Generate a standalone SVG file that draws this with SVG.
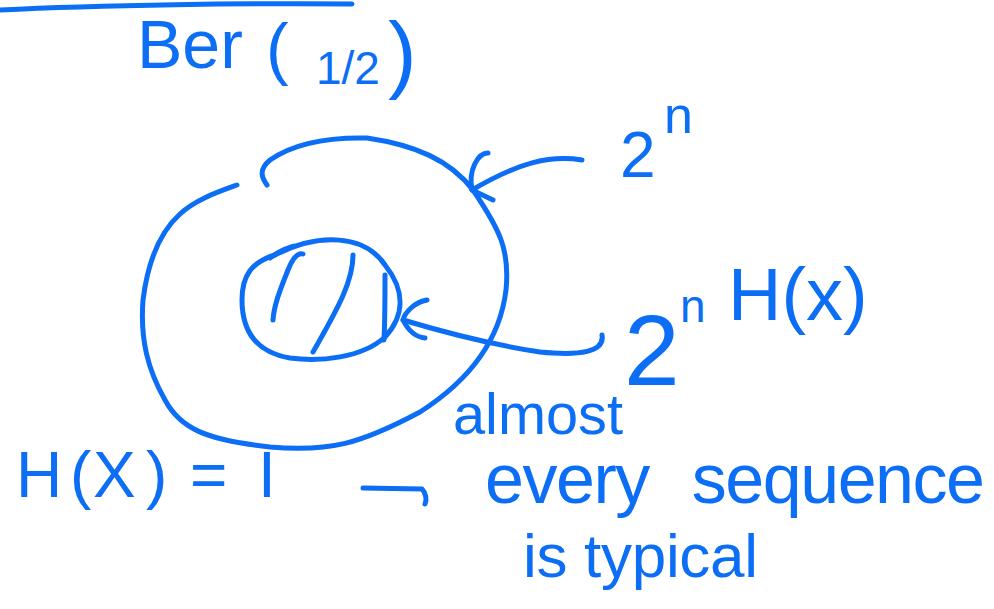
<svg xmlns="http://www.w3.org/2000/svg" width="994" height="609" viewBox="0 0 994 609">
<style>
.s{fill:none;stroke:#0b6ef5;stroke-width:5;stroke-linecap:round;stroke-linejoin:round}
.t{fill:#0b6ef5;font-family:"Liberation Sans",Arial,sans-serif}
</style>
<rect width="994" height="609" fill="#ffffff"/>
<g id="title">
<path class="s" d="M0 10 C100 5 250 3 352 4"/>
<text class="t"><tspan x="137" y="68" font-size="68">Ber</tspan><tspan x="266" y="72" font-size="68">(</tspan><tspan x="316" y="84" font-size="46">1/2</tspan><tspan x="388" y="82" font-size="86">)</tspan></text>
</g>
<g id="outer-set">
<path class="s" d="M237 185 C215 193 195 200 180 214 C160 232 148 260 143 300 C140 340 148 370 165 400 C180 428 205 440 270 447 C330 452 360 444 420 412 C470 380 500 340 506 290 C510 250 500 230 473 190 C450 160 415 145 367 138 C320 137 290 146 270 160 C258 170 262 178 267 185"/>
</g>
<g id="inner-set">
<path class="s" d="M275 255 C320 232 365 235 385 265 C405 290 405 315 385 337 C362 358 320 362 290 358 C255 352 242 330 242 300 C242 275 252 262 275 255 Z"/>
<path class="s" d="M270 258 C280 250 288 248 294 246"/>
<path class="s" d="M303 254 C297 252 292 260 288 270 C280 290 274 305 273 320"/>
<path class="s" d="M353 255 C353 280 340 305 313 352"/>
<path class="s" d="M385 275 C385 300 385 320 384 340"/>
</g>
<g id="connectors">
<path class="s" d="M582 160 C550 155 520 162 472 190"/>
<path class="s" d="M488 153 C478 153 468 170 472 190 L493 200"/>
<path class="s" d="M602 335 C605 352 580 356 540 352 C500 346 450 334 403 320"/>
<path class="s" d="M427 300 C415 302 405 312 403 320 C408 330 415 337 425 338"/>
<path class="s" d="M363 488 L422 489 C426 493 427 500 425 504" stroke-width="7"/>
</g>
<g id="label-2n">
<text class="t"><tspan x="620" y="177" font-size="64">2</tspan><tspan x="664" y="133" font-size="52">n</tspan></text>
</g>
<g id="label-2nHx">
<text class="t"><tspan x="624" y="385" font-size="100">2</tspan><tspan x="680" y="322" font-size="46">n</tspan><tspan x="728" y="320" font-size="74">H(x)</tspan></text>
</g>
<g id="label-almost">
<text class="t" x="453" y="434" font-size="58" textLength="170" lengthAdjust="spacingAndGlyphs">almost</text>
</g>
<g id="label-hx">
<text class="t" x="16 70 93 146 180 190 240 258" y="497" font-size="64">H(X) = I</text>
</g>
<g id="label-every">
<text class="t" x="485" y="503" font-size="70" textLength="500" lengthAdjust="spacing" word-spacing="25">every sequence</text>
<text class="t" x="523" y="577" font-size="62" textLength="235" lengthAdjust="spacing">is typical</text>
</g>
</svg>
